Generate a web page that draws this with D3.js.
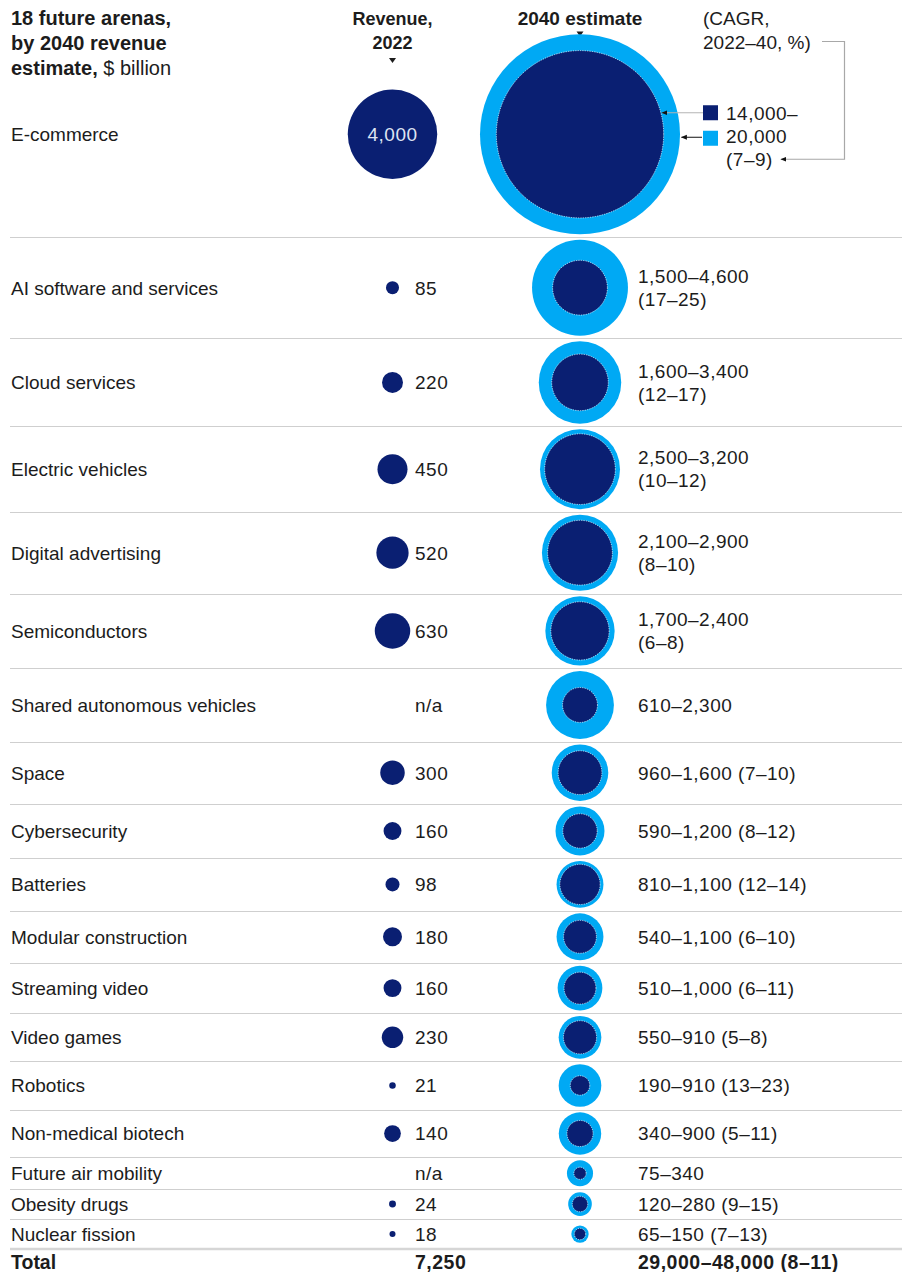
<!DOCTYPE html>
<html>
<head>
<meta charset="utf-8">
<script src="https://cdn.jsdelivr.net/npm/d3@7"></script>
<style>
  html, body { margin: 0; padding: 0; background: #fff; }
  svg { display: block; font-family: "Liberation Sans", Arial, sans-serif; }
</style>
</head>
<body>
<div id="chart"></div>
<script>
// ---------- data ----------
const categories = [
  "E-commerce", "AI software and services", "Cloud services", "Electric vehicles",
  "Digital advertising", "Semiconductors", "Shared autonomous vehicles", "Space",
  "Cybersecurity", "Batteries", "Modular construction", "Streaming video",
  "Video games", "Robotics", "Non-medical biotech", "Future air mobility",
  "Obesity drugs", "Nuclear fission"
];
const revenue2022 = [4000, 85, 220, 450, 520, 630, null, 300, 160, 98, 180, 160, 230, 21, 140, null, 24, 18];
const low2040  = [14000, 1500, 1600, 2500, 2100, 1700, 610, 960, 590, 810, 540, 510, 550, 190, 340, 75, 120, 65];
const high2040 = [20000, 4600, 3400, 3200, 2900, 2400, 2300, 1600, 1200, 1100, 1100, 1000, 910, 910, 900, 340, 280, 150];
const cagrLow  = [7, 17, 12, 10, 8, 6, null, 7, 8, 12, 6, 6, 5, 13, 5, null, 9, 7];
const cagrHigh = [9, 25, 17, 12, 10, 8, null, 10, 12, 14, 10, 11, 8, 23, 11, null, 15, 13];
const totalRevenue2022 = 7250;
const totalLow2040 = 29000, totalHigh2040 = 48000;
const totalCagrLow = 8, totalCagrHigh = 11;

const titleLines = ["18 future arenas,", "by 2040 revenue", "estimate,"];
const titleUnit = " $ billion";
const revHeader = ["Revenue,", "2022"];
const estHeader = "2040 estimate";
const cagrHeader = ["(CAGR,", "2022–40, %)"];

// ---------- setup ----------
const W = 902, H = 1272;
const NAVY = "#0a1f72", SKY = "#00a9f4", INK = "#1c1c1c", RULE = "#cfcfcf";
const FS = 19;
const NUM_LS = 0.5;
const fmt = d3.format(",");
const dash = "–";

const svg = d3.select("#chart").append("svg").attr("width", W).attr("height", H);

const r = d3.scaleSqrt().domain([0, 20000]).range([0, 100]);

const labelX = 11, revX = 392.5, valX = 415, estX = 580, rangeX = 638;
const PAD = 5.5, MINH = 30, TOP = 31.5;

let yAcc = TOP;
const rows = categories.map((c, i) => {
  const h = Math.max(MINH, 2 * r(high2040[i]) + PAD);
  const row = { i, name: c, top: yAcc, h, cy: yAcc + h / 2 };
  yAcc += h;
  return row;
});
const tableBottom = yAcc;

// markers
const defs = svg.append("defs");
defs.append("marker").attr("id", "arr").attr("viewBox", "0 0 10 10")
  .attr("refX", 9).attr("refY", 5).attr("markerWidth", 6).attr("markerHeight", 6)
  .attr("markerUnits", "userSpaceOnUse").attr("orient", "auto")
  .append("path").attr("d", "M0,1 L10,5 L0,9 Z").attr("fill", "#111");

// ---------- header ----------
const title = svg.append("text").attr("x", labelX).attr("y", 25)
  .attr("font-size", 20).attr("font-weight", "bold").attr("fill", INK);
titleLines.forEach((t, k) => {
  title.append("tspan").attr("x", labelX).attr("y", 25 + k * 25).text(t);
  if (k === titleLines.length - 1) {
    title.append("tspan").attr("font-weight", "normal").text(titleUnit);
  }
});

revHeader.forEach((t, k) => {
  svg.append("text").attr("x", revX).attr("y", 25 + k * 23.5)
    .attr("text-anchor", "middle").attr("font-size", 18).attr("font-weight", "bold")
    .attr("fill", INK).text(t);
});
svg.append("path").attr("d", `M${revX - 3.5},58 L${revX + 3.5},58 L${revX},63 Z`).attr("fill", INK);

svg.append("text").attr("x", estX).attr("y", 25).attr("text-anchor", "middle")
  .attr("font-size", 19).attr("font-weight", "bold").attr("fill", INK).text(estHeader);
svg.append("path").attr("d", `M${estX - 3.5},31.5 L${estX + 3.5},31.5 L${estX},36.5 Z`).attr("fill", INK);

cagrHeader.forEach((t, k) => {
  svg.append("text").attr("x", 703).attr("y", 25 + k * 23.5)
    .attr("font-size", FS).attr("fill", INK).text(t);
});

// ---------- separators ----------
svg.append("g").selectAll("line").data(rows.slice(1)).join("line")
  .attr("x1", 10).attr("x2", W).attr("y1", d => Math.round(d.top) + 0.5).attr("y2", d => Math.round(d.top) + 0.5)
  .attr("stroke", RULE).attr("stroke-width", 1);
svg.append("line").attr("x1", 10).attr("x2", W)
  .attr("y1", tableBottom).attr("y2", tableBottom)
  .attr("stroke", "#d6d6d6").attr("stroke-width", 2.5);

// ---------- rows ----------
const g = svg.append("g");

// labels
g.selectAll("text.lab").data(rows).join("text").attr("class", "lab")
  .attr("x", labelX).attr("y", d => d.cy).attr("dy", "0.36em")
  .attr("font-size", FS).attr("fill", INK).text(d => d.name);

// revenue 2022 circles
g.selectAll("circle.rev").data(rows.filter(d => revenue2022[d.i] != null)).join("circle")
  .attr("class", "rev").attr("cx", revX).attr("cy", d => d.cy)
  .attr("r", d => r(revenue2022[d.i])).attr("fill", NAVY);

// revenue values
g.selectAll("text.rv").data(rows).join("text").attr("class", "rv")
  .attr("x", d => d.i === 0 ? revX : valX)
  .attr("text-anchor", d => d.i === 0 ? "middle" : "start")
  .attr("y", d => d.cy).attr("dy", "0.36em").attr("font-size", FS)
  .attr("letter-spacing", NUM_LS)
  .attr("fill", d => d.i === 0 ? "#dfe4f2" : INK)
  .text(d => revenue2022[d.i] == null ? "n/a" : fmt(revenue2022[d.i]));

// 2040 circles
g.selectAll("circle.hi").data(rows).join("circle").attr("class", "hi")
  .attr("cx", estX).attr("cy", d => d.cy).attr("r", d => r(high2040[d.i])).attr("fill", SKY);
g.selectAll("circle.lo").data(rows).join("circle").attr("class", "lo")
  .attr("cx", estX).attr("cy", d => d.cy).attr("r", d => r(low2040[d.i])).attr("fill", NAVY)
  .attr("stroke", "#ffffff").attr("stroke-width", 0.7).attr("stroke-dasharray", "1.2,1.2");

// range labels
rows.slice(1).forEach(d => {
  const i = d.i;
  const range = fmt(low2040[i]) + dash + fmt(high2040[i]);
  const cagr = cagrLow[i] == null ? null : `(${cagrLow[i]}${dash}${cagrHigh[i]})`;
  const twoLine = cagr && d.h > 70;
  const add = (y, t) => g.append("text").attr("x", rangeX).attr("y", y).attr("dy", "0.36em")
    .attr("font-size", FS).attr("letter-spacing", NUM_LS).attr("fill", INK).text(t);
  if (twoLine) {
    add(d.cy - 11.5, range);
    add(d.cy + 11.5, cagr);
  } else {
    add(d.cy, cagr ? `${range} ${cagr}` : range);
  }
});

// ---------- legend (E-commerce row) ----------
const e = rows[0];
const legX = 703, legTextX = 726;
const lg = svg.append("g");
lg.append("rect").attr("x", legX).attr("y", e.cy - 29).attr("width", 15).attr("height", 15).attr("fill", NAVY);
lg.append("rect").attr("x", legX).attr("y", e.cy - 3.5).attr("width", 15).attr("height", 15).attr("fill", SKY);
const legText = [
  [e.cy - 21, fmt(low2040[0]) + dash],
  [e.cy + 2, fmt(high2040[0])],
  [e.cy + 25, `(${cagrLow[0]}${dash}${cagrHigh[0]})`]
];
legText.forEach(([y, t]) => {
  lg.append("text").attr("x", legTextX).attr("y", y).attr("dy", "0.36em").attr("font-size", FS)
    .attr("letter-spacing", NUM_LS).attr("fill", INK).text(t);
});

const yDark = e.cy - 21.5;
const xInner = estX + Math.sqrt(r(low2040[0]) ** 2 - (yDark - e.cy) ** 2);
lg.append("path").attr("d", `M${legX},${yDark} H${xInner + 1}`)
  .attr("stroke", "#b5b5b5").attr("stroke-width", 1.2).attr("fill", "none").attr("marker-end", "url(#arr)");
const yLight = e.cy + 3;
const xOuter = estX + Math.sqrt(r(high2040[0]) ** 2 - (yLight - e.cy) ** 2);
lg.append("path").attr("d", `M${legX - 1},${yLight} H${xOuter + 1.5}`)
  .attr("stroke", "#111").attr("stroke-width", 1).attr("fill", "none").attr("marker-end", "url(#arr)");
lg.append("path").attr("d", `M822,41.5 H844.5 V${e.cy + 25} H781`)
  .attr("stroke", "#a8a8a8").attr("stroke-width", 1.2).attr("fill", "none").attr("marker-end", "url(#arr)");

// ---------- total ----------
const ty = tableBottom + 12.5;
[[labelX, "Total", 0], [valX, fmt(totalRevenue2022), NUM_LS],
 [rangeX, `${fmt(totalLow2040)}${dash}${fmt(totalHigh2040)} (${totalCagrLow}${dash}${totalCagrHigh})`, NUM_LS]]
  .forEach(([x, t, ls]) => {
    svg.append("text").attr("x", x).attr("y", ty).attr("dy", "0.36em")
      .attr("font-size", 19.5).attr("font-weight", "bold").attr("letter-spacing", ls)
      .attr("fill", INK).text(t);
  });
</script>
</body>
</html>
